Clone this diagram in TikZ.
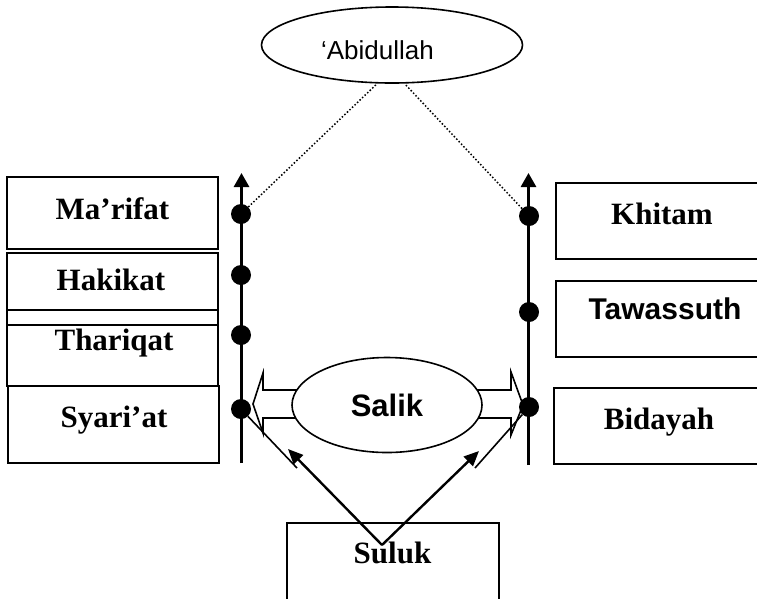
\documentclass[tikz,border=0pt]{standalone}
\usepackage{fontspec}
\setmainfont{Liberation Serif}
\newfontfamily\arialfont{Liberation Sans}
\usetikzlibrary{arrows.meta,shapes.geometric}

\begin{document}
\begin{tikzpicture}[x=1pt,y=-1pt,
  box/.style={draw, line width=1.6pt, rectangle, inner sep=0pt},
  stage/.style={font=\fontsize{31}{36}\selectfont\bfseries, anchor=base, inner sep=0pt},
  sstage/.style={font=\fontsize{30}{36}\selectfont\arialfont\bfseries, anchor=base, inner sep=0pt},
  dot/.style={circle, fill, inner sep=0pt, minimum size=20pt},
  axis/.style={line width=2.8pt, -{Triangle[width=15pt,length=14pt]}},
  hollow/.style={draw, line width=1.6pt, fill=white, line join=miter},
  sarrow/.style={line width=2.4pt, -{Triangle[width=13pt,length=15pt]}}]
\useasboundingbox (0,0) rectangle (757,598);
\clip (0,0) rectangle (757,598);

% left column
\node[box, minimum width=211pt, minimum height=72pt] (marbox) at (112.5,213) {};
\node[box, minimum width=211pt, minimum height=76pt] (thabox) at (112.5,348) {};
\node[box, minimum width=211pt, minimum height=72pt] (hakbox) at (112.5,289) {};
\node[box, minimum width=211pt, minimum height=77pt] (syabox) at (113.5,424.5) {};
\node[stage] (marifat) at (112.5,219) {Ma’rifat};
\node[stage] (hakikat) at (111,290) {Hakikat};
\node[stage] (thariqat) at (114,350) {Thariqat};
\node[stage] (syariat) at (114,427) {Syari’at};

% right column
\node[box, minimum width=214pt, minimum height=76pt] (khibox) at (663,221) {};
\node[box, minimum width=214pt, minimum height=76pt] (tawbox) at (663,319) {};
\node[box, minimum width=216pt, minimum height=76pt] (bidbox) at (662,426) {};
\node[stage] (khitam) at (662,224) {Khitam};
\node[sstage] (tawassuth) at (665,319) {Tawassuth};
\node[stage] (bidayah) at (659,429) {Bidayah};

% axes
\coordinate (lbot) at (241.5,463);
\coordinate (ltop) at (241.5,173);
\coordinate (rbot) at (528.5,465);
\coordinate (rtop) at (528.5,173);
\draw[axis] (lbot) -- (ltop);
\draw[axis] (rbot) -- (rtop);

% salik with hollow arrows
\path[hollow] (300,390) -- (263,390) -- (263,373) -- (253,404) -- (263,433) -- (263,418) -- (300,418);
\path[hollow] (474,390) -- (511,390) -- (511,372) -- (523,405) -- (511,435) -- (511,418) -- (474,418);
\node[draw, ellipse, line width=1.6pt, fill=white, inner sep=0pt, minimum width=190pt, minimum height=95pt,
  font=\fontsize{31}{36}\selectfont\arialfont\bfseries] (salik) at (387,405) {Salik};

\node[dot] (l1) at (241,214) {};
\node[dot] (l2) at (241,275) {};
\node[dot] (l3) at (241,335) {};
\node[dot] (l4) at (241,409) {};
\node[dot] (r1) at (529,216) {};
\node[dot] (r2) at (529,312) {};
\node[dot] (r3) at (529,407) {};

% top
\node[draw, ellipse, line width=1.6pt, inner sep=0pt, minimum width=261pt, minimum height=76pt] (abid) at (392,45) {};
\node[font=\fontsize{26}{30}\selectfont\arialfont, anchor=base, inner sep=0pt] (abidtxt) at (377.5,59) {‘Abidullah};
\draw[dotted, line width=1.5pt] (l1) -- (abid.-111);
\draw[dotted, line width=1.5pt] (r1) -- (abid.-72);

% suluk
\node[box, minimum width=212pt, minimum height=97pt] (sulbox) at (393,571.5) {};
\node[stage] (suluk) at (392.5,563) {Suluk};
\coordinate (src) at (382,545);
\coordinate (ltip) at (288,449);
\coordinate (rtip) at (479,451);
\coordinate (lend) at (297,468);
\coordinate (rend) at (475,468);
\draw[sarrow] (src) -- (ltip);
\draw[sarrow] (src) -- (rtip);
\draw[line width=1.6pt] (l4) -- (lend);
\draw[line width=1.6pt] (r3) -- (rend);
\end{tikzpicture}
\end{document}
